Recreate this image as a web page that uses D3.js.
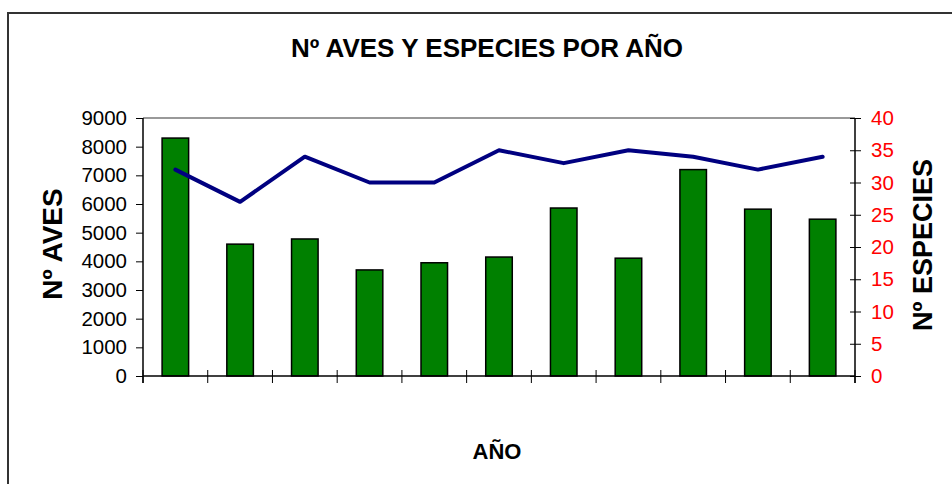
<!DOCTYPE html>
<html>
<head>
<meta charset="utf-8">
<script src="https://cdn.jsdelivr.net/npm/d3@7"></script>
<style>
  body { margin: 0; background: #fff; }
  svg { display: block; font-family: Arial, "Liberation Sans", sans-serif; }
</style>
</head>
<body>
<script>
// data
var years = ["1", "2", "3", "4", "5", "6", "7", "8", "9", "10", "11"];
var aves = [8300, 4600, 4780, 3700, 3950, 4150, 5860, 4110, 7200, 5820, 5470];
var especies = [32, 27, 34, 30, 30, 35, 33, 35, 34, 32, 34];
var avesTicks = [0, 1000, 2000, 3000, 4000, 5000, 6000, 7000, 8000, 9000];
var especiesTicks = [0, 5, 10, 15, 20, 25, 30, 35, 40];

var width = 952;
var height = 484;
var plotL = 143, plotR = 855, plotT = 118, plotB = 376;

var svg = d3.select("body").append("svg")
  .attr("width", width)
  .attr("height", height);

// outer chart border (runs off the right and bottom edge)
svg.append("rect")
  .attr("x", 8).attr("y", 13)
  .attr("width", 960).attr("height", 490)
  .attr("fill", "#fff")
  .attr("stroke", "#333")
  .attr("stroke-width", 2);

var x = d3.scaleBand()
  .domain(years)
  .range([plotL, plotR])
  .paddingInner(0.59)
  .paddingOuter(0.295);

var yL = d3.scaleLinear().domain([0, 9000]).range([plotB, plotT]);
var yR = d3.scaleLinear().domain([0, 40]).range([plotB, plotT]);

// plot area top border
svg.append("line")
  .attr("x1", plotL).attr("x2", plotR)
  .attr("y1", plotT).attr("y2", plotT)
  .attr("stroke", "#999").attr("stroke-width", 2);

// bars
svg.selectAll("rect.bar")
  .data(aves)
  .enter()
  .append("rect")
  .attr("class", "bar")
  .attr("x", function (d, i) { return x(years[i]); })
  .attr("y", function (d) { return yL(d); })
  .attr("width", x.bandwidth())
  .attr("height", function (d) { return plotB - yL(d); })
  .attr("fill", "#008000")
  .attr("stroke", "#000")
  .attr("stroke-width", 1.5);

// left axis
var axL = svg.append("g")
  .attr("transform", "translate(" + plotL + ",0)")
  .call(d3.axisLeft(yL).tickValues(avesTicks).tickFormat(d3.format("d"))
    .tickSize(7).tickPadding(9));
axL.selectAll("text").attr("font-size", 20.5).attr("fill", "#000")
  .attr("font-family", "Arial, 'Liberation Sans', sans-serif");

// right axis
var axR = svg.append("g")
  .attr("transform", "translate(" + plotR + ",0)")
  .call(d3.axisRight(yR).tickValues(especiesTicks).tickSize(0).tickPadding(16));
axR.selectAll(".tick line").attr("x1", -5).attr("x2", 6);
axR.selectAll("text").attr("font-size", 20.5).attr("fill", "#ff0000")
  .attr("font-family", "Arial, 'Liberation Sans', sans-serif");

// bottom axis, ticks on category boundaries
var bounds = years.map(function (d) { return x(d) - x.step() * x.paddingOuter(); });
bounds.push(plotR);
var axB = svg.append("g").attr("transform", "translate(0," + plotB + ")");
axB.append("line")
  .attr("x1", plotL).attr("x2", plotR)
  .attr("stroke", "#000").attr("stroke-width", 1.5);
axB.selectAll("line.tk")
  .data(bounds)
  .enter()
  .append("line")
  .attr("class", "tk")
  .attr("x1", function (d) { return d; })
  .attr("x2", function (d) { return d; })
  .attr("y1", -6).attr("y2", 7)
  .attr("stroke", "#000");

[axL, axR].forEach(function (a) {
  a.select(".domain").attr("stroke", "#000").attr("stroke-width", 1.5);
  a.selectAll(".tick line").attr("stroke", "#000");
});
axL.select(".domain").attr("d", "M0," + plotT + "V" + (plotB + 7));
axR.select(".domain").attr("d", "M0," + plotT + "V" + (plotB + 7));

// species line
var line = d3.line()
  .x(function (d, i) { return x(years[i]) + x.bandwidth() / 2; })
  .y(function (d) { return yR(d); });

svg.append("path")
  .attr("d", line(especies))
  .attr("fill", "none")
  .attr("stroke", "#000080")
  .attr("stroke-width", 4)
  .attr("stroke-linejoin", "round")
  .attr("stroke-linecap", "round");

// titles
svg.append("text")
  .attr("x", 487).attr("y", 57)
  .attr("text-anchor", "middle")
  .attr("font-size", 26).attr("font-weight", "bold")
  .text("Nº AVES Y ESPECIES POR AÑO");

svg.append("text")
  .attr("transform", "translate(62,244) rotate(-90)")
  .attr("text-anchor", "middle")
  .attr("font-size", 28).attr("font-weight", "bold")
  .text("Nº AVES");

svg.append("text")
  .attr("transform", "translate(932,245) rotate(-90)")
  .attr("text-anchor", "middle")
  .attr("font-size", 27).attr("font-weight", "bold")
  .text("Nº ESPECIES");

svg.append("text")
  .attr("x", 497).attr("y", 459)
  .attr("text-anchor", "middle")
  .attr("font-size", 22).attr("font-weight", "bold")
  .text("AÑO");
</script>
</body>
</html>
